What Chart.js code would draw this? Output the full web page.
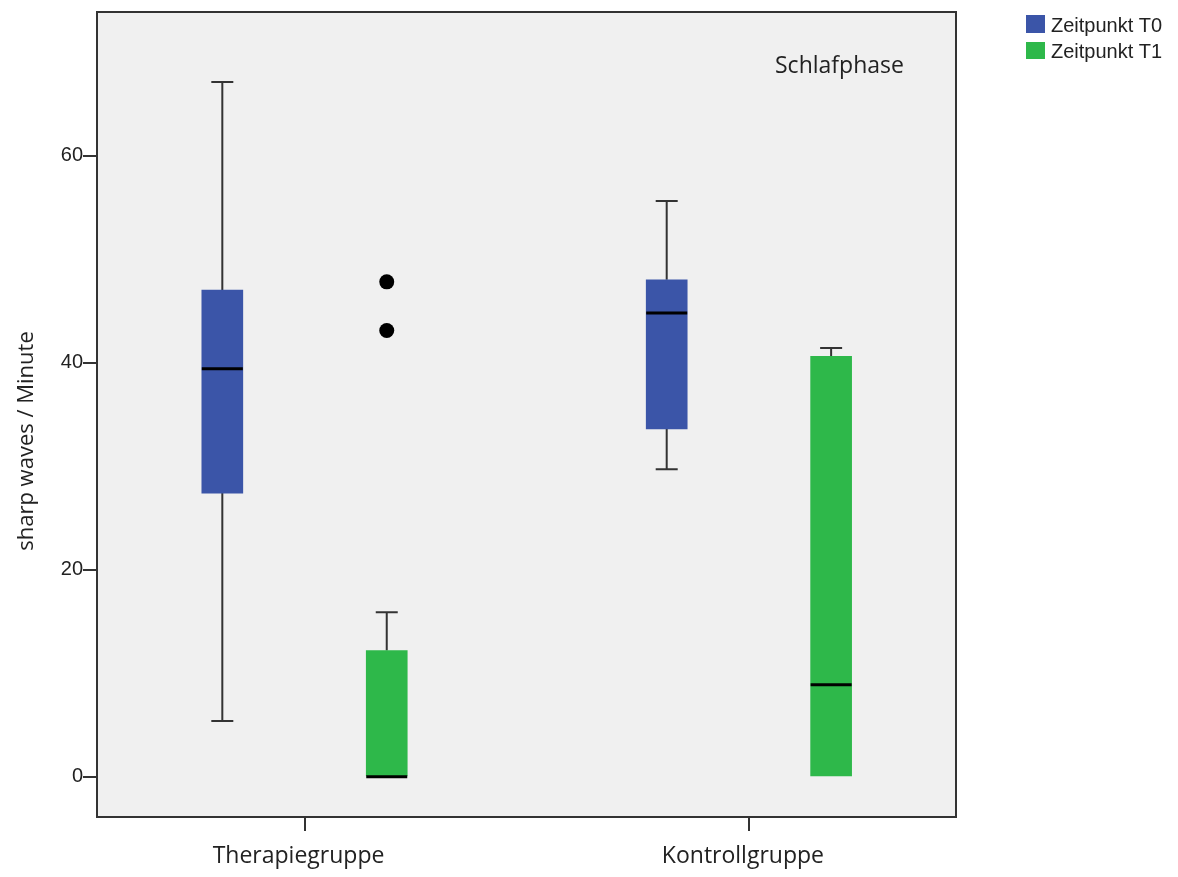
<!DOCTYPE html>
<html>
<head>
<meta charset="utf-8">
<script src="https://cdn.jsdelivr.net/npm/chart.js@4.4.1/dist/chart.umd.min.js"></script>
<style>
html, body { margin: 0; padding: 0; background: #ffffff; }
#wrap { position: relative; width: 1178px; height: 877px; }
</style>
</head>
<body>
<div id="wrap"><canvas id="c" width="1178" height="877"></canvas></div>
<script>
// ---- data ----
const categories = ['Therapiegruppe', 'Kontrollgruppe'];
const seriesNames = ['Zeitpunkt T0', 'Zeitpunkt T1'];
const t0Min = [5.4, 29.7];
const t0Q1 = [27.4, 33.6];
const t0Median = [39.4, 44.8];
const t0Q3 = [47.0, 48.0];
const t0Max = [67.1, 55.6];
const t0Outliers = [[], []];
const t1Min = [0, 0];
const t1Q1 = [0, 0];
const t1Median = [0, 8.9];
const t1Q3 = [12.2, 40.6];
const t1Max = [15.9, 41.4];
const t1Outliers = [[47.8, 43.1], []];
const yTicks = [0, 20, 40, 60];
const plotTitle = 'Schlafphase';
const yTitle = 'sharp waves / Minute';

// ---- layout / style constants ----
const Y_MIN = -3.88, Y_MAX = 73.86;
const X_MIN = 0.533, X_MAX = 2.466;
const OFFSETS = [-0.185, 0.185];
const COLORS = ['#3b55a8', '#2eb84a'];

const series = [
  { name: seriesNames[0], min: t0Min, q1: t0Q1, med: t0Median, q3: t0Q3, max: t0Max, out: t0Outliers, color: COLORS[0] },
  { name: seriesNames[1], min: t1Min, q1: t1Q1, med: t1Median, q3: t1Q3, max: t1Max, out: t1Outliers, color: COLORS[1] }
];

const datasets = series.map((s, k) => ({
  type: 'bar',
  label: s.name,
  data: categories.map((c, i) => ({ x: i + 1 + OFFSETS[k], y: [s.q1[i], s.q3[i]] })),
  backgroundColor: s.color,
  borderWidth: 0,
  barThickness: 41,
  grouped: false
}));

const outlierPoints = [];
series.forEach((s, k) => s.out.forEach((arr, i) => arr.forEach(v => outlierPoints.push({ x: i + 1 + OFFSETS[k], y: v }))));
datasets.push({
  type: 'scatter',
  label: 'Ausreißer',
  data: outlierPoints,
  pointRadius: 7.5,
  pointHoverRadius: 7.5,
  backgroundColor: '#000000',
  borderWidth: 0
});

const boxPlugin = {
  id: 'boxplot',
  beforeDraw(chart) {
    const { ctx, chartArea: a } = chart;
    ctx.save();
    ctx.fillStyle = '#f0f0f0';
    ctx.fillRect(a.left, a.top, a.right - a.left, a.bottom - a.top);
    ctx.restore();
  },
  beforeDatasetsDraw(chart) {
    const { ctx } = chart;
    const xs = chart.scales.x, ys = chart.scales.y;
    ctx.save();
    ctx.strokeStyle = '#333333';
    ctx.lineWidth = 2;
    series.forEach((s, k) => {
      categories.forEach((c, i) => {
        const x = xs.getPixelForValue(i + 1 + OFFSETS[k]);
        const seg = (from, to) => {
          const y0 = ys.getPixelForValue(from), y1 = ys.getPixelForValue(to);
          ctx.beginPath();
          ctx.moveTo(x, y0); ctx.lineTo(x, y1);
          ctx.moveTo(x - 11, y1); ctx.lineTo(x + 11, y1);
          ctx.stroke();
        };
        if (s.max[i] > s.q3[i]) seg(s.q3[i], s.max[i]);
        if (s.min[i] < s.q1[i]) seg(s.q1[i], s.min[i]);
      });
    });
    ctx.restore();
  },
  afterDatasetsDraw(chart) {
    const { ctx, chartArea: a } = chart;
    const ys = chart.scales.y;
    ctx.save();
    ctx.strokeStyle = '#000000';
    ctx.lineWidth = 3;
    series.forEach((s, k) => {
      const meta = chart.getDatasetMeta(k);
      categories.forEach((c, i) => {
        const el = meta.data[i];
        const y = ys.getPixelForValue(s.med[i]);
        ctx.beginPath();
        ctx.moveTo(el.x - el.width / 2, y);
        ctx.lineTo(el.x + el.width / 2, y);
        ctx.stroke();
      });
    });
    // frame
    ctx.strokeStyle = '#333333';
    ctx.lineWidth = 2;
    ctx.strokeRect(a.left, a.top, a.right - a.left, a.bottom - a.top);
    ctx.restore();
  },
  afterDraw(chart) {
    const { ctx } = chart;
    ctx.save();
    ctx.fillStyle = '#222222';
    ctx.textBaseline = 'alphabetic';
    // inner title
    ctx.font = '23px "Open Sans", sans-serif';
    ctx.textAlign = 'left';
    ctx.fillText(plotTitle, 775, 73);
    // y axis title
    ctx.save();
    ctx.translate(33, 441);
    ctx.rotate(-Math.PI / 2);
    ctx.font = '22px "Open Sans", sans-serif';
    ctx.textAlign = 'center';
    ctx.fillText(yTitle, 0, 0);
    ctx.restore();
    // legend
    const rows = [{ y: 15, h: 18, base: 32 }, { y: 42, h: 17, base: 58 }];
    ctx.font = '20px "Liberation Sans", Arial, sans-serif';
    ctx.textAlign = 'left';
    series.forEach((s, k) => {
      ctx.fillStyle = s.color;
      ctx.fillRect(1026, rows[k].y, 19, rows[k].h);
      ctx.fillStyle = '#222222';
      ctx.fillText(s.name, 1051, rows[k].base);
    });
    ctx.restore();
  }
};

new Chart(document.getElementById('c'), {
  type: 'bar',
  data: { datasets },
  options: {
    responsive: false,
    animation: false,
    events: [],
    layout: { padding: { left: 0, right: 222, top: 10, bottom: 0 } },
    plugins: { legend: { display: false }, tooltip: { enabled: false } },
    scales: {
      x: {
        type: 'linear',
        min: X_MIN,
        max: X_MAX,
        offset: false,
        afterBuildTicks: s => { s.ticks = categories.map((c, i) => ({ value: i + 1 })); },
        afterFit: s => { s.height = 60; },
        grid: { offset: false, drawOnChartArea: false, drawTicks: true, tickLength: 14, color: '#333333', lineWidth: 2 },
        border: { display: false },
        ticks: {
          padding: 12,
          labelOffset: -6,
          maxRotation: 0,
          autoSkip: false,
          color: '#222222',
          font: { family: '"Open Sans", sans-serif', size: 23 },
          callback: v => categories[Math.round(v) - 1] || ''
        }
      },
      y: {
        type: 'linear',
        min: Y_MIN,
        max: Y_MAX,
        afterBuildTicks: s => { s.ticks = yTicks.map(v => ({ value: v })); },
        afterFit: s => { s.width = 97; },
        grid: { drawOnChartArea: false, drawTicks: true, tickLength: 14, color: '#333333', lineWidth: 2 },
        border: { display: false },
        ticks: {
          padding: 0,
          color: '#222222',
          font: { family: '"Liberation Sans", Arial, sans-serif', size: 20 },
          callback: v => String(v)
        }
      }
    }
  },
  plugins: [boxPlugin]
});
</script>
</body>
</html>
